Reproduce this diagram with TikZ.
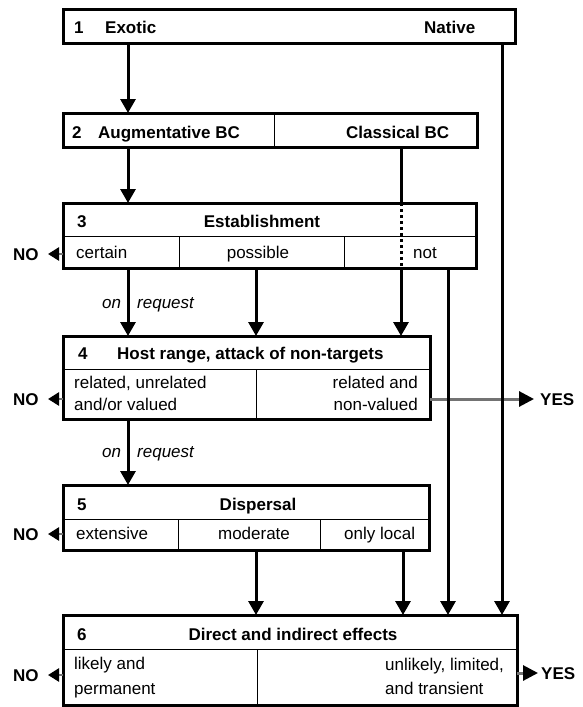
\documentclass[tikz,border=0pt]{standalone}
\usepackage{fontspec}
\setmainfont{Liberation Sans}
\usetikzlibrary{arrows.meta}
\begin{document}
\begin{tikzpicture}[x=1pt,y=-1pt,
  box/.style={draw, line width=3pt, anchor=north west, inner sep=0pt, outer sep=0pt},
  div/.style={line width=1pt},
  flow/.style={line width=3pt, -{Triangle[length=14pt,width=15pt]}},
  solidline/.style={line width=3pt},
  dotline/.style={line width=3pt, dash pattern=on 3pt off 3pt},
  noarr/.style={line width=2.5pt, draw=black!55, -{Triangle[length=11pt,width=13pt,color=black,fill=black]}},
  yesarr/.style={line width=3pt, draw=black!55, -{Triangle[length=15pt,width=15pt,color=black,fill=black]}},
  t/.style={font=\fontsize{17}{21}\selectfont, inner sep=0pt, anchor=base west},
  tb/.style={font=\fontsize{17}{21}\selectfont\bfseries, inner sep=0pt, anchor=base west},
  ti/.style={font=\fontsize{17}{21}\selectfont\itshape, inner sep=0pt, anchor=base west},
]
\useasboundingbox (0,0) rectangle (583,707);

% boxes
\node[box, minimum width=452pt, minimum height=34pt] (b1) at (63,9) {};
\node[box, minimum width=414pt, minimum height=34pt] (b2) at (63,113) {};
\node[box, minimum width=413pt, minimum height=65pt] (b3) at (63,203) {};
\node[box, minimum width=367pt, minimum height=83pt] (b4) at (63,336) {};
\node[box, minimum width=366pt, minimum height=65pt] (b5) at (63,485) {};
\node[box, minimum width=454pt, minimum height=90pt] (b6) at (63,615) {};

% dividers
\draw[div] (274,113) -- (274,147);
\draw[div] (63,236) -- (476,236);
\draw[div] (179,236) -- (179,268);
\draw[div] (344,236) -- (344,268);
\draw[div] (63,369) -- (430,369);
\draw[div] (256,369) -- (256,419);
\draw[div] (63,519) -- (429,519);
\draw[div] (178,519) -- (178,550);
\draw[div] (320,519) -- (320,550);
\draw[div] (63,649) -- (517,649);
\draw[div] (257,649) -- (257,705);

% texts box 1
\node[tb] (t1n) at (74,33) {1};
\node[tb] (t1a) at (105,33) {Exotic};
\node[tb] (t1b) at (424,33) {Native};
% box 2
\node[tb] (t2n) at (72,138) {2};
\node[tb] (t2a) at (98,138) {Augmentative BC};
\node[tb] (t2b) at (346,138) {Classical BC};
% box 3
\node[tb] (t3n) at (77,227) {3};
\node[tb, anchor=base] (t3) at (262,227) {Establishment};
\node[t] (t3a) at (76,258) {certain};
\node[t, anchor=base] (t3b) at (258,258) {possible};
\node[t] (t3c) at (413,258) {not};
% box 4
\node[tb] (t4n) at (78,359) {4};
\node[tb] (t4) at (117,359) {Host range, attack of non-targets};
\node[t] (t4a1) at (74,388) {related, unrelated};
\node[t] (t4a2) at (74,410) {and/or valued};
\node[t, anchor=base east] (t4b1) at (418,388) {related and};
\node[t, anchor=base east] (t4b2) at (418,410) {non-valued};
% box 5
\node[tb] (t5n) at (77,510) {5};
\node[tb, anchor=base] (t5) at (258,510) {Dispersal};
\node[t] (t5a) at (76,539) {extensive};
\node[t, anchor=base] (t5b) at (254,539) {moderate};
\node[t] (t5c) at (344,539) {only local};
% box 6
\node[tb] (t6n) at (77,640) {6};
\node[tb, anchor=base] (t6) at (293,640) {Direct and indirect effects};
\node[t] (t6a1) at (74,669) {likely and};
\node[t] (t6a2) at (74,694) {permanent};
\node[t] (t6b1) at (385,670) {unlikely, limited,};
\node[t] (t6b2) at (385,694) {and transient};

% on request labels
\node[ti] (or1a) at (102,308) {on};
\node[ti] (or1b) at (137,308) {request};
\node[ti] (or2a) at (102,457) {on};
\node[ti] (or2b) at (137,457) {request};

% NO / YES labels
\node[tb] (no3) at (13,260) {NO};
\node[tb] (no4) at (13,405) {NO};
\node[tb] (no5) at (13,540) {NO};
\node[tb] (no6) at (13,681) {NO};
\node[tb] (yes4) at (540,405) {YES};
\node[tb] (yes6) at (541,679) {YES};

% connector end points
\coordinate (e1s) at (128,43);   \coordinate (e1e) at (128,113);
\coordinate (nts) at (502,43);   \coordinate (nte) at (502,615);
\coordinate (e2s) at (128,147);  \coordinate (e2e) at (128,203);
\coordinate (c2s) at (401,147);  \coordinate (c3t) at (401,203);
\coordinate (c3b) at (401,268);  \coordinate (c4t) at (401,336);
\coordinate (e3s) at (128,268);  \coordinate (e3e) at (128,336);
\coordinate (p3s) at (256,268);  \coordinate (p3e) at (256,336);
\coordinate (n3s) at (448,268);  \coordinate (n3e) at (448,615);
\coordinate (e4s) at (128,419);  \coordinate (e4e) at (128,485);
\coordinate (m5s) at (256,550);  \coordinate (m5e) at (256,615);
\coordinate (l5s) at (403,550);  \coordinate (l5e) at (403,615);
\coordinate (no3s) at (63,254);  \coordinate (no3e) at (48,254);
\coordinate (no4s) at (63,399);  \coordinate (no4e) at (48,399);
\coordinate (no5s) at (63,534);  \coordinate (no5e) at (48,534);
\coordinate (no6s) at (63,675);  \coordinate (no6e) at (48,675);
\coordinate (y4s) at (430,399);  \coordinate (y4e) at (534,399);
\coordinate (y6s) at (517,673);  \coordinate (y6e) at (538,673);

% connectors
\draw[yesarr] (y4s) -- (y4e);
\draw[flow] (e1s) -- (e1e);
\draw[flow] (nts) -- (nte);
\draw[flow] (e2s) -- (e2e);
\draw[solidline] (c2s) -- (c3t);
\draw[dotline] (c3t) -- (c3b);
\draw[flow] (c3b) -- (c4t);
\draw[flow] (e3s) -- (e3e);
\draw[flow] (p3s) -- (p3e);
\draw[flow] (n3s) -- (n3e);
\draw[flow] (e4s) -- (e4e);
\draw[flow] (m5s) -- (m5e);
\draw[flow] (l5s) -- (l5e);
\draw[noarr] (no3s) -- (no3e);
\draw[noarr] (no4s) -- (no4e);
\draw[noarr] (no5s) -- (no5e);
\draw[noarr] (no6s) -- (no6e);
\draw[yesarr] (y6s) -- (y6e);
\end{tikzpicture}
\end{document}
